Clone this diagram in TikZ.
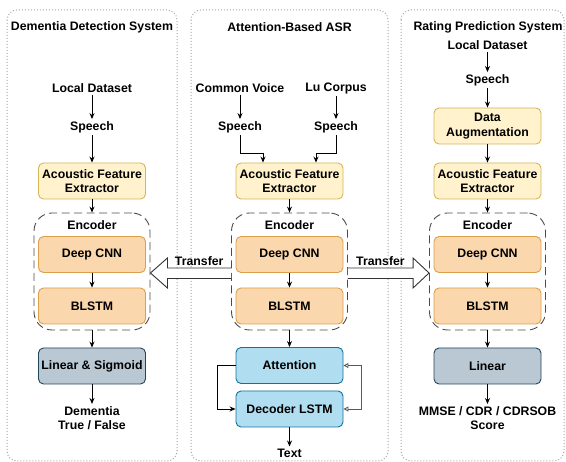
\documentclass[tikz,border=0pt]{standalone}
\usepackage{fontspec}
\setmainfont{Liberation Sans}
\usetikzlibrary{arrows.meta}
\definecolor{afefill}{HTML}{FFF2CC}
\definecolor{afedraw}{HTML}{D6B656}
\definecolor{cnnfill}{HTML}{FAD7AC}
\definecolor{cnndraw}{HTML}{DDA04A}
\definecolor{attfill}{HTML}{B1DDF0}
\definecolor{attdraw}{HTML}{10739E}
\definecolor{linfill}{HTML}{BAC8D3}
\definecolor{lindraw}{HTML}{23445D}
\begin{document}
\begin{tikzpicture}[x=1pt,y=-1pt,
 font=\fontsize{12.3}{14.5}\selectfont\bfseries,
 panel/.style={draw=gray!70,dotted,line width=1pt,rounded corners=10pt},
 txt/.style={align=center,inner sep=2pt},
 box/.style={rounded corners=5pt,line width=0.9pt,minimum width=107pt,minimum height=36pt,align=center,inner sep=2pt},
 afe/.style={box,fill=afefill,draw=afedraw},
 cnn/.style={box,fill=cnnfill,draw=cnndraw},
 att/.style={box,fill=attfill,draw=attdraw},
 lin/.style={box,fill=linfill,draw=lindraw},
 enc/.style={draw=black!70,dash pattern=on 8pt off 4.5pt,line width=0.9pt,rounded corners=18pt,minimum width=116pt,minimum height=117pt,
  label={[anchor=north,yshift=-5.5pt,inner sep=2pt]north:Encoder}},
 arr/.style={-{Stealth[length=6pt,width=5pt]},line width=0.9pt},
 fback/.style={{Triangle[open,length=5pt,width=5pt]}-{Triangle[open,length=5pt,width=5pt]},draw=gray!70!black,line width=0.9pt},
 transfer/.style={draw=black!80,fill=white,line width=0.9pt,line join=miter}]
 \useasboundingbox (0,0) rectangle (566,462);
 \begin{scope}
 \clip (0,0) rectangle (566,462);
 \draw[panel] (7,10) rectangle (177,461);
 \draw[panel] (191,10) rectangle (388,461);
 \draw[panel] (401,10) rectangle (564,461);
 \end{scope}
 \node[txt] (titL) at (92,27) {Dementia Detection System};
 \node[txt] (titM) at (289.5,27) {Attention-Based ASR};
 \node[txt] (titR) at (488,27) {Rating Prediction System};

 \node[txt] (dsL) at (92,88) {Local Dataset};
 \node[txt] (spL) at (92,127) {Speech};
 \node[afe] (afeL) at (92,181) {Acoustic Feature\\Extractor};
 \node[enc] (encL) at (92,271.5) {};
 \node[cnn] (cnnL) at (92,254.5) {Deep CNN};
 \node[cnn] (lstmL) at (92,306) {BLSTM};
 \node[lin] (linL) at (92,366) {Linear \& Sigmoid};
 \node[txt] (outL) at (92,418) {Dementia\\True / False};

 \node[txt] (dsA) at (240,88) {Common Voice};
 \node[txt] (dsB) at (336,88) {Lu Corpus};
 \node[txt] (spA) at (240,127) {Speech};
 \node[txt] (spB) at (336,127) {Speech};
 \node[afe] (afeM) at (289.5,181) {Acoustic Feature\\Extractor};
 \node[enc] (encM) at (289.5,271.5) {};
 \node[cnn] (cnnM) at (289.5,254.5) {Deep CNN};
 \node[cnn] (lstmM) at (289.5,306) {BLSTM};
 \node[att] (attM) at (289.5,365.5) {Attention};
 \node[att] (decM) at (289.5,409) {Decoder LSTM};
 \node[txt] (outM) at (289.5,453) {Text};

 \node[txt] (dsR) at (487.5,45) {Local Dataset};
 \node[txt] (spR) at (487.5,80) {Speech};
 \node[afe] (augR) at (487.5,126) {Data\\Augmentation};
 \node[afe] (afeR) at (487.5,181) {Acoustic Feature\\Extractor};
 \node[enc] (encR) at (487.5,271.5) {};
 \node[cnn] (cnnR) at (487.5,254.5) {Deep CNN};
 \node[cnn] (lstmR) at (487.5,306) {BLSTM};
 \node[lin] (linR) at (487.5,366) {Linear};
 \node[txt] (outR) at (487.5,418) {MMSE / CDR / CDRSOB\\Score};

 \draw[arr] (dsL) -- (spL);
 \draw[arr] (spL) -- (afeL);
 \draw[arr] (afeL) -- (encL);
 \draw[arr] (cnnL) -- (lstmL);
 \draw[arr] (encL) -- (linL);
 \draw[arr] (linL) -- (outL);

 \draw[arr] (dsA) -- (spA);
 \draw[arr] (dsB) -- (spB);
 \draw[arr] (spA.south) -- ++(0,19) -| ([xshift=-26.5pt]afeM.north);
 \draw[arr] (spB.south) -- ++(0,19) -| ([xshift=26.5pt]afeM.north);
 \draw[arr] (afeM) -- (encM);
 \draw[arr] (cnnM) -- (lstmM);
 \draw[arr] (encM) -- (attM);
 \draw[arr] (attM.west) -- ++(-18,0) |- (decM.west);
 \draw[fback] (attM.east) -- ++(18,0) |- (decM.east);
 \draw[arr] (decM) -- (outM);

 \draw[arr] (dsR) -- (spR);
 \draw[arr] (spR) -- (augR);
 \draw[arr] (augR) -- (afeR);
 \draw[arr] (afeR) -- (encR);
 \draw[arr] (cnnR) -- (lstmR);
 \draw[arr] (encR) -- (linR);
 \draw[arr] (linR) -- (outR);

 \draw[transfer] ([yshift=3.5pt]encM.west) -- node[above,inner sep=2pt] (trL) {Transfer} ([xshift=17pt,yshift=3.5pt]encL.east)
  -- ([xshift=17pt,yshift=13.5pt]encL.east) -- ([yshift=-1.5pt]encL.east) -- ([xshift=17pt,yshift=-16.5pt]encL.east)
  -- ([xshift=17pt,yshift=-7pt]encL.east) -- ([yshift=-7pt]encM.west);
 \draw[transfer] ([yshift=3.5pt]encM.east) -- node[above,inner sep=2pt] (trR) {Transfer} ([xshift=-16pt,yshift=3.5pt]encR.west)
  -- ([xshift=-16pt,yshift=13.5pt]encR.west) -- ([yshift=-1.5pt]encR.west) -- ([xshift=-16pt,yshift=-16.5pt]encR.west)
  -- ([xshift=-16pt,yshift=-7pt]encR.west) -- ([yshift=-7pt]encM.east);
\end{tikzpicture}
\end{document}
